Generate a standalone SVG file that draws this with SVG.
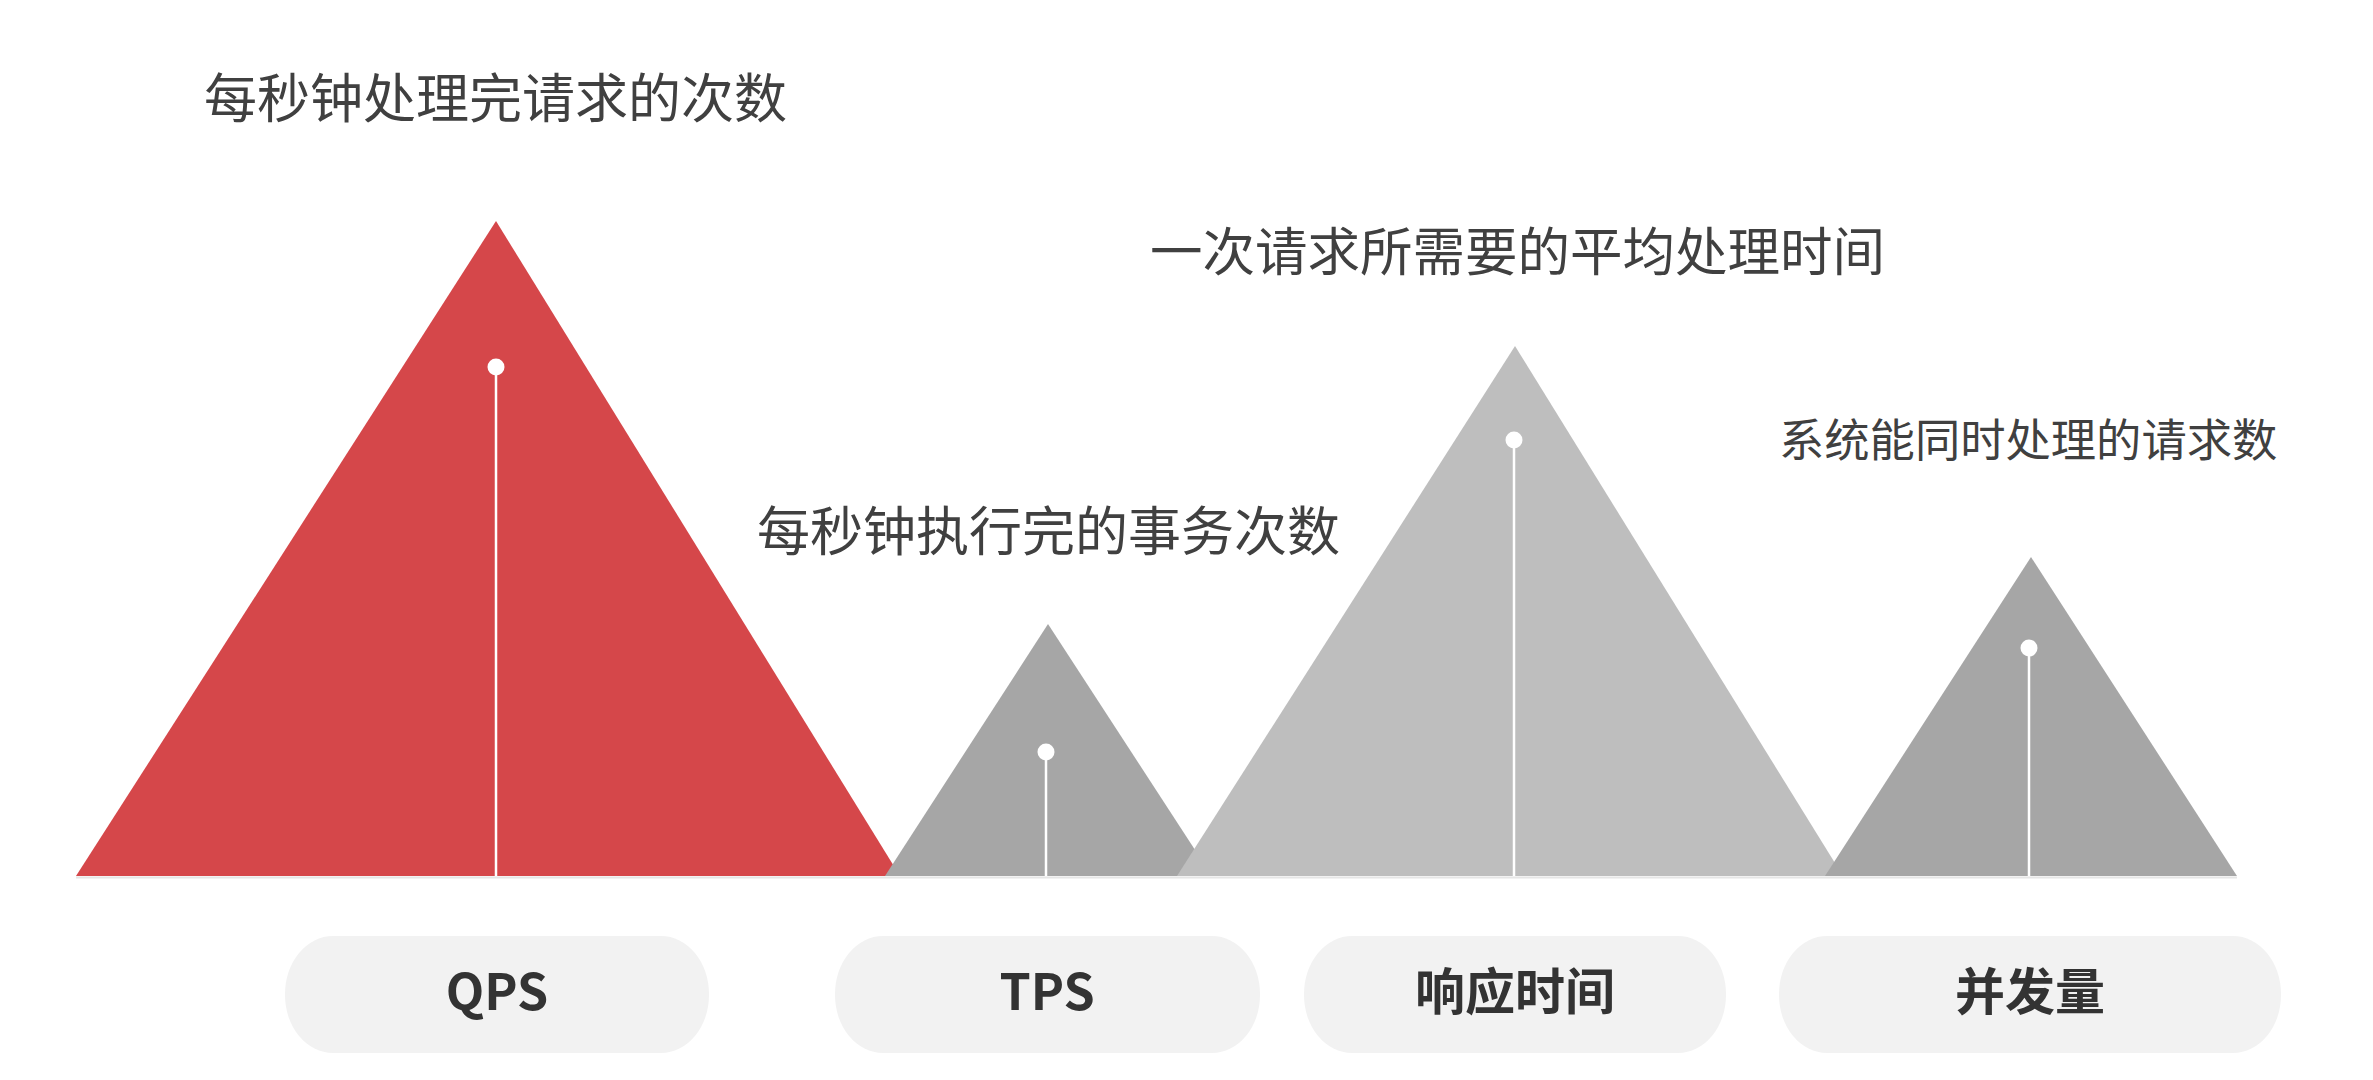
<svg xmlns="http://www.w3.org/2000/svg" width="2373" height="1080" viewBox="0 0 2373 1080">
  <style>
    .desc { font-family: "Noto Sans CJK SC", "Noto Sans", sans-serif; fill: #404040; font-weight: 400; }
    .pill { fill: #f2f2f2; }
    .pilltxt { font-family: "Noto Sans CJK SC", "Noto Sans", sans-serif; fill: #333333; font-weight: 700; font-size: 50px; text-anchor: middle; }
    .stem { stroke: #ffffff; stroke-width: 2.5; }
    .dot { fill: #ffffff; }
    .red { fill: #d5474a; }
    .dark { fill: #a6a6a6; }
    .light { fill: #bebebe; }
  </style>
  <rect width="2373" height="1080" fill="#ffffff"/>

  <g id="baseline">
    <line x1="76" y1="877.5" x2="2237" y2="877.5" stroke="#e6e6e6" stroke-width="2"/>
  </g>

  <g id="node-qps">
    <polygon class="red" points="496,221 900,876 76,876"/>
    <line class="stem" x1="496" y1="368" x2="496" y2="876"/>
    <circle class="dot" cx="496" cy="367" r="8.5"/>
    <text class="desc" x="204" y="118" font-size="53">每秒钟处理完请求的次数</text>
  </g>

  <g id="node-tps">
    <polygon class="dark" points="1048,624 1212,876 885,876"/>
    <line class="stem" x1="1046" y1="752" x2="1046" y2="876"/>
    <circle class="dot" cx="1046" cy="752" r="8.5"/>
    <text class="desc" x="757" y="551" font-size="53">每秒钟执行完的事务次数</text>
  </g>

  <g id="node-rt">
    <polygon class="light" points="1515,346 1843,876 1177,876"/>
    <line class="stem" x1="1514" y1="440" x2="1514" y2="876"/>
    <circle class="dot" cx="1514" cy="440" r="8.5"/>
    <text class="desc" x="1150" y="271" font-size="52.5">一次请求所需要的平均处理时间</text>
  </g>

  <g id="node-conc">
    <polygon class="dark" points="2031,557 2237,876 1825,876"/>
    <line class="stem" x1="2029" y1="648" x2="2029" y2="876"/>
    <circle class="dot" cx="2029" cy="648" r="8.5"/>
    <text class="desc" x="1779" y="457" font-size="45.3">系统能同时处理的请求数</text>
  </g>

  <g id="pill-qps">
    <rect class="pill" x="285" y="936" width="424" height="117" rx="48" ry="58"/>
    <text class="pilltxt" x="497" y="1010">QPS</text>
  </g>
  <g id="pill-tps">
    <rect class="pill" x="835" y="936" width="425" height="117" rx="48" ry="58"/>
    <text class="pilltxt" x="1047" y="1010">TPS</text>
  </g>
  <g id="pill-rt">
    <rect class="pill" x="1304" y="936" width="422" height="117" rx="48" ry="58"/>
    <text class="pilltxt" x="1515" y="1010">响应时间</text>
  </g>
  <g id="pill-conc">
    <rect class="pill" x="1779" y="936" width="502" height="117" rx="48" ry="58"/>
    <text class="pilltxt" x="2030" y="1010">并发量</text>
  </g>
</svg>
